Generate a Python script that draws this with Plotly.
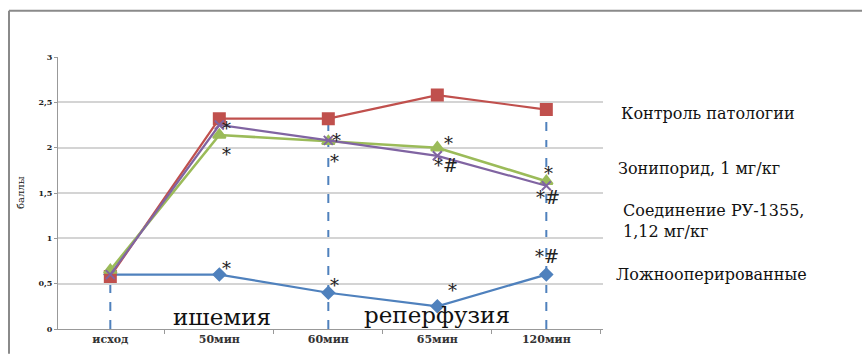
import plotly.graph_objects as go

# Time points
categories = ["исход", "50мин", "60мин", "65мин", "120мин"]

# Scores (баллы) per group
control = [0.58, 2.32, 2.32, 2.58, 2.42]
zoniporide = [0.65, 2.14, 2.07, 2.00, 1.63]
ru1355 = [0.60, 2.25, 2.08, 1.91, 1.58]
sham = [0.60, 0.60, 0.40, 0.25, 0.60]

legend_names = [
    "Контроль патологии",
    "Зонипорид, 1 мг/кг",
    "Соединение РУ-1355,<br>1,12 мг/кг",
    "Ложнооперированные",
]

y_ticks = [0, 0.5, 1, 1.5, 2, 2.5, 3]
y_ticktext = ["0", "0,5", "1", "1,5", "2", "2,5", "3"]

# Significance marks: (series, point index, text, x shift, y shift)
marks = [
    (ru1355, 1, "*", 7, -3),
    (zoniporide, 1, "*", 7, -20),
    (ru1355, 2, "*", 8, 0),
    (zoniporide, 2, "*", 6, -20),
    (zoniporide, 3, "*", 11, 4),
    (ru1355, 3, "*#", 9, -10),
    (zoniporide, 4, "*", 2, 8),
    (ru1355, 4, "*#", 2, -12),
    (sham, 1, "*", 7, 6),
    (sham, 2, "*", 6, 7),
    (sham, 3, "*", 15, 16),
    (sham, 4, "*#", 1, 18),
]

# Points with dashed drop lines to the axis
drop_idx = [0, 2, 4]

W, H = 862, 358
L, R, T, B = 58, 259, 57, 25
PW, PH = W - L - R, H - T - B


def px_x(px):
    return (px - L) / PW


def px_y(py):
    return (H - B - py) / PH


SERIF = "DejaVu Serif"

fig = go.Figure()

series = [
    (sham, "#4F81BD", "diamond", 9, 2.2),
    (control, "#C0504D", "square", 11, 2.2),
    (zoniporide, "#9BBB59", "triangle-up", 11, 2.6),
    (ru1355, "#8064A2", "x-thin-open", 9, 2.2),
]
for vals, color, sym, size, lw in series:
    fig.add_trace(go.Scatter(
        x=categories, y=vals, mode="lines+markers",
        line=dict(color=color, width=lw),
        marker=dict(symbol=sym, size=size, color=color,
                    line=dict(color=color, width=2)),
        showlegend=False, hoverinfo="skip",
    ))

# Dashed drop lines from the control curve to zero
for i in drop_idx:
    fig.add_shape(type="line", xref="x", yref="y",
                  x0=categories[i], x1=categories[i], y0=0, y1=control[i],
                  line=dict(color="#4F81BD", width=2, dash="dash"), layer="below")

for vals, i, txt, dx, dy in marks:
    fig.add_annotation(x=categories[i], y=vals[i], text=txt, showarrow=False,
                       xshift=dx, yshift=dy,
                       font=dict(family=SERIF, size=18, color="#222"))

# Phase labels
for txt, cx, cy in [("ишемия", 222, 321), ("реперфузия", 437, 319)]:
    fig.add_annotation(x=px_x(cx), y=px_y(cy), xref="paper", yref="paper",
                       xanchor="center", yanchor="middle",
                       text=txt, showarrow=False,
                       font=dict(family=SERIF, size=23, color="#111"))

# Group labels on the right
legend_pos = [(619, 114), (616, 170), (621, 223), (614, 278)]
for name, (lx, ly) in zip(legend_names, legend_pos):
    fig.add_annotation(x=px_x(lx), y=px_y(ly), xref="paper", yref="paper",
                       text=name, showarrow=False, xanchor="left",
                       yanchor="middle", align="left",
                       font=dict(family=SERIF, size=16, color="#111"))

# Axis title
fig.add_annotation(x=px_x(20), y=px_y(195), xref="paper", yref="paper",
                   xanchor="center", yanchor="middle",
                   text="баллы", showarrow=False, textangle=-90,
                   font=dict(family=SERIF, size=10, color="#111"))

# Outer frame (top and left edges)
fig.add_shape(type="line", xref="paper", yref="paper",
              x0=px_x(9), x1=px_x(W), y0=px_y(10), y1=px_y(10),
              line=dict(color="#8a8a8a", width=2))
fig.add_shape(type="line", xref="paper", yref="paper",
              x0=px_x(9), x1=px_x(9), y0=px_y(10), y1=px_y(H),
              line=dict(color="#8a8a8a", width=2))

fig.update_layout(
    width=W, height=H,
    margin=dict(l=L, r=R, t=T, b=B),
    paper_bgcolor="white", plot_bgcolor="white",
    xaxis=dict(
        type="category", range=[-0.48, 4.52],
        tickson="boundaries", ticks="outside", ticklen=4, tickcolor="#999",
        showline=True, linecolor="#999", linewidth=1,
        showgrid=False,
        tickfont=dict(family=SERIF, size=11, color="#333", weight="bold"),
    ),
    yaxis=dict(
        range=[0, 3], tickvals=y_ticks, ticktext=y_ticktext,
        ticks="outside", ticklen=3, tickcolor="#999",
        showline=True, linecolor="#999", linewidth=1,
        showgrid=True, gridcolor="#d4d4d4", gridwidth=1.5,
        zeroline=False,
        tickfont=dict(family=SERIF, size=8, color="#222", weight="bold"),
    ),
)

fig.write_html("out.html")
